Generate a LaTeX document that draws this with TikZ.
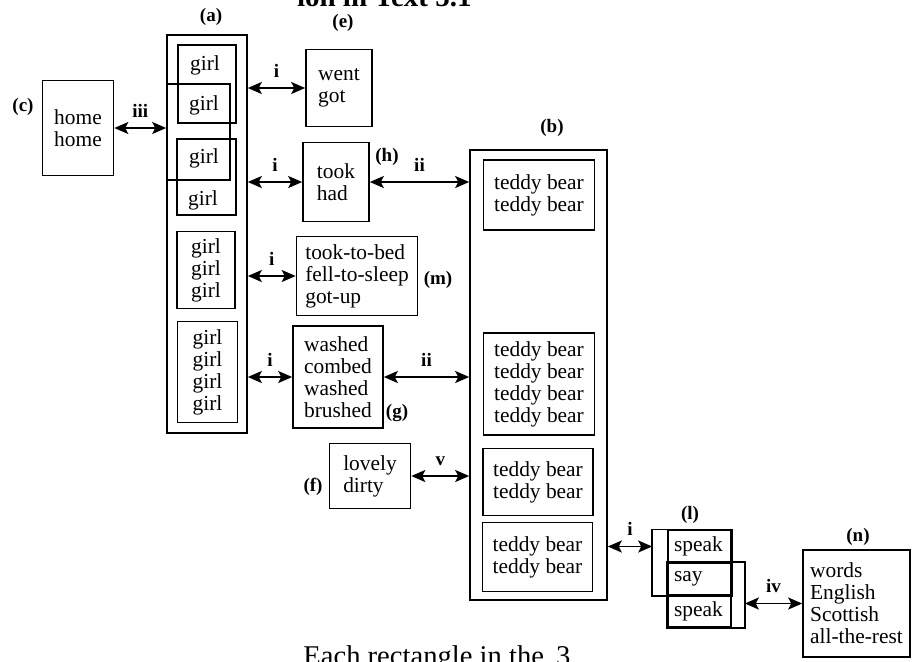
\documentclass[tikz,border=0pt]{standalone}
\usepackage{fontspec}
\setmainfont{Liberation Serif}
\usetikzlibrary{arrows.meta}

\newcommand{\wordsize}{\fontsize{10.7}{11}\selectfont}
\newcommand{\tagsize}{\fontsize{9.5}{10}\selectfont\bfseries}

\tikzset{
  wbox/.style={draw, line width=0.8pt, inner sep=0pt, align=left, font=\wordsize},
  cell/.style={draw, line width=0.8pt, inner xsep=3pt, inner ysep=0pt, text width=25.5pt,
    minimum height=16.25pt, align=left, font=\wordsize},
  word/.style={font=\wordsize, inner sep=0pt},
  tag/.style={font=\tagsize, inner sep=1pt},
  arrtag/.style={font=\tagsize, inner sep=0pt, anchor=base, midway, yshift=5.5pt},
  link/.style={{Stealth[length=7pt,width=6pt,inset=1.5pt]}-{Stealth[length=7pt,width=6pt,inset=1.5pt]}, line width=0.9pt},
}

\begin{document}
\begin{tikzpicture}[x=0.5pt, y=-0.5pt]
\useasboundingbox (0,0) rectangle (912,661);
\clip (0,0) rectangle (912,661);

% heading and caption, cut by the page edge
\node[font=\fontsize{14.5}{15}\selectfont\bfseries, anchor=base east, inner sep=0pt] (title) at (472,6) {ion in Text 5.1};
\node[font=\fontsize{14.3}{15}\selectfont, anchor=base west, inner sep=0pt] (note) at (303,665) {Each rectangle in the\hspace{6pt}3};

% (c)
\node[wbox, minimum width=35.5pt, minimum height=47.5pt] (home) at (78,128) {home\\home};
\node[tag] (lc) at (23,107) {(c)};

% (a) column of girls
\node[wbox, minimum width=40pt, minimum height=199pt] (a) at (207,234) {};
\node[tag] (la) at (211,17) {(a)};
\node[wbox, minimum width=29pt, minimum height=39pt] (a1) at (207,84) {};
\node[wbox, minimum width=31.5pt, minimum height=48pt] (a2) at (198.5,132) {};
\node[wbox, minimum width=29.5pt, minimum height=38pt] (a3) at (206.5,177) {};
\node[word] (g1) at (205,65) {girl};
\node[word] (g2) at (204,105) {girl};
\node[word] (g3) at (204,158) {girl};
\node[word] (g4) at (203,200) {girl};
\node[wbox, minimum width=29pt, minimum height=38.5pt] (a4) at (206,270) {girl\\girl\\girl};
\node[wbox, minimum width=30pt, minimum height=50.5pt] (a5) at (207.5,372) {girl\\girl\\girl\\girl};

% middle column
\node[wbox, minimum width=33pt, minimum height=38.5pt] (e) at (339,88) {went\\got};
\node[tag] (le) at (343,23) {(e)};
\node[wbox, minimum width=33pt, minimum height=39.5pt] (h) at (336,182) {took\\had};
\node[tag] (lh) at (387,157) {(h)};
\node[wbox, minimum width=60.5pt, minimum height=39.5pt] (m) at (357,276) {took-to-bed\\fell-to-sleep\\got-up};
\node[tag] (lm) at (438,280) {(m)};
\node[wbox, minimum width=45pt, minimum height=51pt] (g) at (338,377) {washed\\combed\\washed\\brushed};
\node[tag] (lg) at (397,413) {(g)};
\node[wbox, minimum width=40.5pt, minimum height=32.5pt] (f) at (370,476) {lovely\\dirty};
\node[tag] (lf) at (313,487) {(f)};

% (b) column of teddy bears
\node[wbox, minimum width=68.5pt, minimum height=225pt] (b) at (538.5,375) {};
\node[tag] (lb) at (552,128) {(b)};
\node[wbox, minimum width=55.5pt, minimum height=35pt] (b1) at (539,195) {teddy bear\\teddy bear};
\node[wbox, minimum width=55.5pt, minimum height=51pt] (b2) at (539,384) {teddy bear\\teddy bear\\teddy bear\\teddy bear};
\node[wbox, minimum width=55pt, minimum height=33.5pt] (b3) at (538,482) {teddy bear\\teddy bear};
\node[wbox, minimum width=55pt, minimum height=34.5pt] (b4) at (537.5,557) {teddy bear\\teddy bear};

% (l) speak / say / speak
\node[cell] (s1) at (699.5,546.5) {speak};
\node[cell] (s2) at (699.5,579) {say};
\node[cell] (s3) at (699.5,611) {speak};
\draw[line width=0.8pt] ([xshift=-7.5pt]s1.north west) rectangle (s2.south east);
\draw[line width=0.8pt] (s2.north west) rectangle ([xshift=6.5pt]s3.south east);
\coordinate (lw) at ([xshift=-7.5pt]s1.west);
\coordinate (le) at ([xshift=6.5pt]s3.east);
\node[tag] (ll) at (690,515) {(l)};

% (n)
\node[wbox, minimum width=53.5pt, minimum height=53.5pt] (n) at (856.5,603.5) {words\\English\\Scottish\\all-the-rest};
\node[tag] (ln) at (858,537) {(n)};

% ties
\draw[link] (home.east) -- (home.east -| a.west) node[arrtag] {iii};
\draw[link] (a.east |- e.west) -- (e.west) node[arrtag] {i};
\draw[link] (a.east |- h.west) -- (h.west) node[arrtag] {i};
\draw[link] (h.east) -- (h.east -| b.west) node[arrtag] {ii};
\draw[link] (a.east |- m.west) -- (m.west) node[arrtag] {i};
\draw[link] (a.east |- g.west) -- (g.west) node[arrtag] {i};
\draw[link] (g.east) -- (g.east -| b.west) node[arrtag] {ii};
\draw[link] (f.east) -- (f.east -| b.west) node[arrtag] {v};
\draw[link] (b.east |- lw) -- (lw) node[arrtag] {i};
\draw[link] (n.west -| le) -- (n.west) node[arrtag] {iv};

\end{tikzpicture}
\end{document}
